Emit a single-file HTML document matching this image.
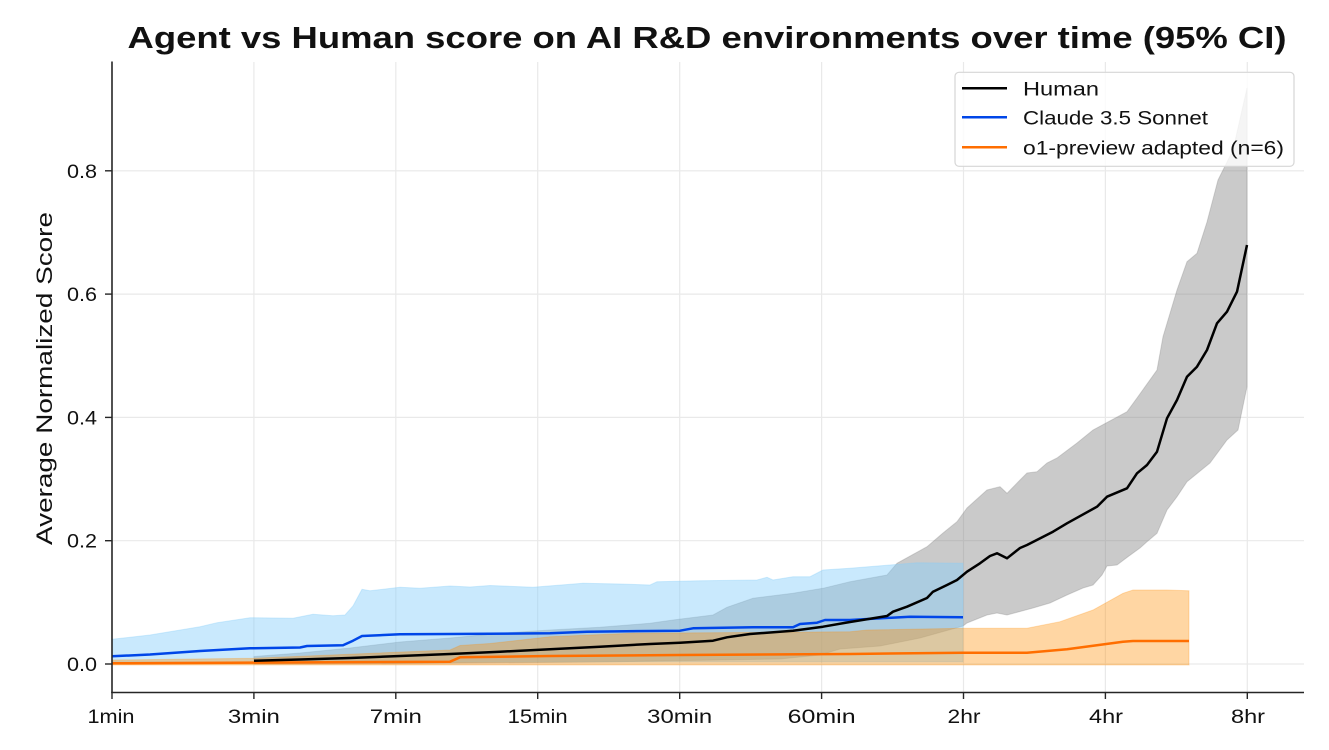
<!DOCTYPE html>
<html>
<head>
<meta charset="utf-8">
<style>
  html, body { margin: 0; padding: 0; background: #ffffff; }
  svg { display: block; }
  text { font-family: "Liberation Sans", "DejaVu Sans", sans-serif; fill: #111; }
</style>
</head>
<body>
<svg width="1329" height="750" viewBox="0 0 1329 750" xmlns="http://www.w3.org/2000/svg">
  <rect x="0" y="0" width="1329" height="750" fill="#ffffff"/>

  <!-- Title -->
  <text x="707" y="48" text-anchor="middle" font-size="31" font-weight="bold" textLength="1159" lengthAdjust="spacingAndGlyphs" fill="#000">Agent vs Human score on AI R&amp;D environments over time (95% CI)</text>

  <!-- Grid -->
  <g stroke="#e9e9e9" stroke-width="1.2">
    <line x1="253.9" y1="62" x2="253.9" y2="692"/>
    <line x1="395.8" y1="62" x2="395.8" y2="692"/>
    <line x1="537.7" y1="62" x2="537.7" y2="692"/>
    <line x1="679.7" y1="62" x2="679.7" y2="692"/>
    <line x1="821.6" y1="62" x2="821.6" y2="692"/>
    <line x1="963.5" y1="62" x2="963.5" y2="692"/>
    <line x1="1105.4" y1="62" x2="1105.4" y2="692"/>
    <line x1="1247.3" y1="62" x2="1247.3" y2="692"/>
    <line x1="112" y1="664" x2="1304" y2="664"/>
    <line x1="112" y1="540.7" x2="1304" y2="540.7"/>
    <line x1="112" y1="417.4" x2="1304" y2="417.4"/>
    <line x1="112" y1="294.1" x2="1304" y2="294.1"/>
    <line x1="112" y1="170.8" x2="1304" y2="170.8"/>
  </g>

  <!-- Human CI band -->
  <polygon fill="#808080" fill-opacity="0.42" stroke="#808080" stroke-opacity="0.3" stroke-width="1"
    points="254,656.5 300,653 350,648 400,642 450,638 500,633.3 550,630 600,627.3 650,623.3 673,620 713,615 727,607.3 753,598.3 793,593.3 823,588.3 850,581.7 887,575 897,563.3 927,546.7 943,533 957,521.7 967,508 987,490 1000,486.7 1007,493.3 1020,480 1027,473 1037,471.7 1047,463 1057,458 1077,443 1093,430 1127,411.7 1137,398 1157,370 1163,336.7 1177,290 1187,261.7 1197,253.3 1207,222 1218,180 1233,150 1247,88 1247,386.7 1238,430 1227,440 1210,463 1187,481.7 1177,496.7 1167,510 1157,533.3 1147,541.7 1140,548 1128,556.7 1117,565 1107,566 1102,575 1093,585 1083,588 1067,595 1050,603 1033,608 1007,615 997,613 987,615 967,623 963,626 920,638 880,646 840,649 820,655 780,659 720,660 600,662 400,663.5 254,664"/>

  <!-- Claude CI band -->
  <polygon fill="#87cefa" fill-opacity="0.45" stroke="#87cefa" stroke-opacity="0.35" stroke-width="1"
    points="112,639.3 150,635 200,626.7 217,622.7 250,617.7 293,618.3 313,614.3 333,615.7 345,615 353,606 362,589.3 370,590.7 400,587.3 420,588.3 450,586 470,587 490,585.5 533,587.3 583,583.3 620,584 650,585 657,581.7 700,580.7 757,580 767,577.3 773,580 793,576.7 810,576.7 823,570 850,568.3 890,565 917,562.7 963,563.3 963,662 112,662"/>

  <!-- o1 CI band -->
  <polygon fill="#ff8c00" fill-opacity="0.36" stroke="#ff8c00" stroke-opacity="0.25" stroke-width="1"
    points="112,660 253,658.3 450,650 460,645.5 490,643.5 550,636.7 633,633.3 850,631.7 867,630 963,628.3 1027,628.3 1060,621.7 1093,610 1123,593.3 1133,590 1167,590 1189,590.7 1189,665 112,665"/>

  <!-- o1 line -->
  <polyline fill="none" stroke="#ff6e00" stroke-width="2.5" stroke-linejoin="round"
    points="112,663.3 450,661.7 460,657.3 550,656 680,655 850,654 963,652.7 1027,652.7 1067,649.3 1123,641.7 1133,641 1189,641"/>

  <!-- Claude line -->
  <polyline fill="none" stroke="#0046e8" stroke-width="2.5" stroke-linejoin="round"
    points="112,656.3 150,654.5 200,651 250,648.3 300,647.5 307,646 343,645.3 353,640.7 362,636 400,634.3 450,634 550,633.3 587,631.7 680,630.7 693,628.3 753,627.3 793,627.3 800,624 817,622.7 825,620 850,620 910,616.7 963,617.3"/>

  <!-- Human line -->
  <polyline fill="none" stroke="#000000" stroke-width="2.5" stroke-linejoin="round"
    points="254,660.7 300,659.5 350,658 400,656 450,654 500,651.7 550,649.3 600,646.7 650,644 680,642.7 713,640.7 727,637.3 750,634 793,630.7 823,626.7 850,622 887,616 893,611.7 907,606.7 927,598 933,591.7 947,585 957,580 967,571.7 980,563.3 990,556 997,553.3 1007,558.3 1020,548 1027,545 1053,531.7 1067,523.3 1097,506.7 1107,496.7 1127,488.3 1137,473.3 1147,465 1157,451.7 1167,418.3 1177,400 1187,376.7 1197,366.7 1207,350 1217,323.3 1227,311.7 1237,291.7 1247,245"/>

  <!-- Axes spines -->
  <g stroke="#262626" stroke-width="1.6">
    <line x1="112" y1="61.5" x2="112" y2="693"/>
    <line x1="111.2" y1="692.5" x2="1304" y2="692.5"/>
  </g>

  <!-- Y ticks -->
  <g stroke="#262626" stroke-width="1.4">
    <line x1="105" y1="664" x2="112" y2="664"/>
    <line x1="105" y1="540.7" x2="112" y2="540.7"/>
    <line x1="105" y1="417.4" x2="112" y2="417.4"/>
    <line x1="105" y1="294.1" x2="112" y2="294.1"/>
    <line x1="105" y1="170.8" x2="112" y2="170.8"/>
  </g>
  <g font-size="19" text-anchor="end">
    <text x="97" y="671" textLength="30" lengthAdjust="spacingAndGlyphs">0.0</text>
    <text x="97" y="547.7" textLength="30" lengthAdjust="spacingAndGlyphs">0.2</text>
    <text x="97" y="424.4" textLength="30" lengthAdjust="spacingAndGlyphs">0.4</text>
    <text x="97" y="301.1" textLength="30" lengthAdjust="spacingAndGlyphs">0.6</text>
    <text x="97" y="177.8" textLength="30" lengthAdjust="spacingAndGlyphs">0.8</text>
  </g>

  <!-- X ticks -->
  <g stroke="#262626" stroke-width="1.4">
    <line x1="112" y1="692" x2="112" y2="699"/>
    <line x1="253.9" y1="692" x2="253.9" y2="699"/>
    <line x1="395.8" y1="692" x2="395.8" y2="699"/>
    <line x1="537.7" y1="692" x2="537.7" y2="699"/>
    <line x1="679.7" y1="692" x2="679.7" y2="699"/>
    <line x1="821.6" y1="692" x2="821.6" y2="699"/>
    <line x1="963.5" y1="692" x2="963.5" y2="699"/>
    <line x1="1105.4" y1="692" x2="1105.4" y2="699"/>
    <line x1="1247.3" y1="692" x2="1247.3" y2="699"/>
  </g>
  <g font-size="19" text-anchor="middle">
    <text x="111" y="723" textLength="47" lengthAdjust="spacingAndGlyphs">1min</text>
    <text x="253.9" y="723" textLength="52" lengthAdjust="spacingAndGlyphs">3min</text>
    <text x="395.8" y="723" textLength="52" lengthAdjust="spacingAndGlyphs">7min</text>
    <text x="537.7" y="723" textLength="60" lengthAdjust="spacingAndGlyphs">15min</text>
    <text x="679.7" y="723" textLength="65" lengthAdjust="spacingAndGlyphs">30min</text>
    <text x="821.6" y="723" textLength="68" lengthAdjust="spacingAndGlyphs">60min</text>
    <text x="964" y="723" textLength="33" lengthAdjust="spacingAndGlyphs">2hr</text>
    <text x="1106" y="723" textLength="34" lengthAdjust="spacingAndGlyphs">4hr</text>
    <text x="1248" y="723" textLength="34" lengthAdjust="spacingAndGlyphs">8hr</text>
  </g>

  <!-- Y axis label -->
  <text transform="translate(52,378.5) rotate(-90)" x="0" y="0" text-anchor="middle" font-size="22" textLength="333" lengthAdjust="spacingAndGlyphs">Average Normalized Score</text>

  <!-- Legend -->
  <rect x="955" y="72.3" width="339" height="94" rx="4" ry="4" fill="#ffffff" fill-opacity="0.8" stroke="#d6d6d6" stroke-width="1.2"/>
  <line x1="962" y1="88.3" x2="1007" y2="88.3" stroke="#000000" stroke-width="2.5"/>
  <line x1="962" y1="117.3" x2="1007" y2="117.3" stroke="#0046e8" stroke-width="2.5"/>
  <line x1="962" y1="147.3" x2="1007" y2="147.3" stroke="#ff6e00" stroke-width="2.5"/>
  <g font-size="19">
    <text x="1023" y="95.3" textLength="76" lengthAdjust="spacingAndGlyphs">Human</text>
    <text x="1023" y="124.3" textLength="185" lengthAdjust="spacingAndGlyphs">Claude 3.5 Sonnet</text>
    <text x="1023" y="154.3" textLength="261" lengthAdjust="spacingAndGlyphs">o1-preview adapted (n=6)</text>
  </g>
</svg>
</body>
</html>
